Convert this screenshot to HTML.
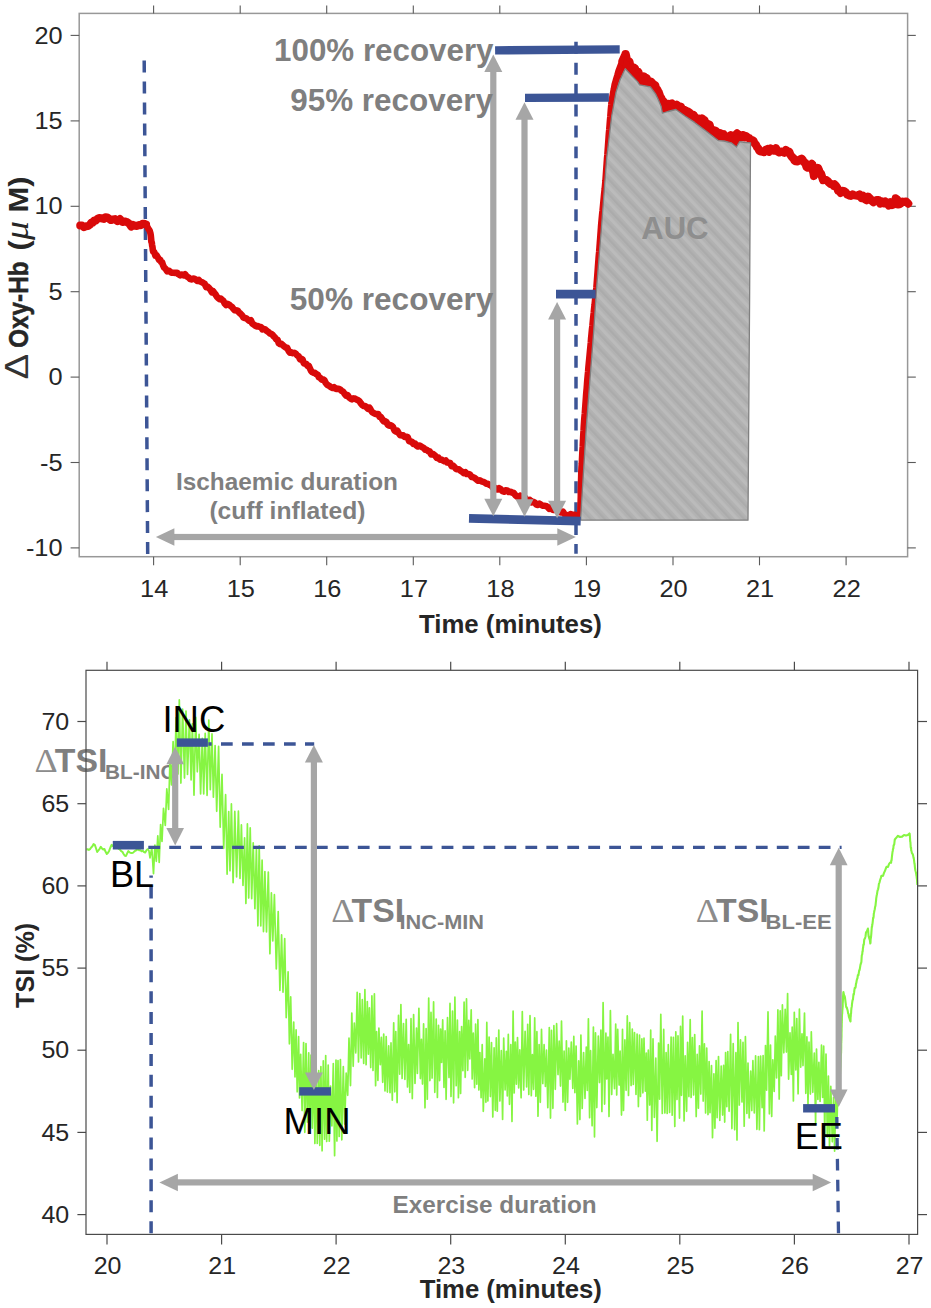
<!DOCTYPE html>
<html><head><meta charset="utf-8"><title>NIRS figure</title>
<style>html,body{margin:0;padding:0;background:#fff;}svg{display:block;}</style>
</head><body>
<svg width="931" height="1308" viewBox="0 0 931 1308">
<defs>
<pattern id="hatch" width="10.2" height="10.2" patternUnits="userSpaceOnUse" patternTransform="rotate(47)"><rect x="0" y="0" width="10.2" height="10.2" fill="#bbbbbb"/><rect x="0" y="0" width="10.2" height="2.2" fill="#b2b2b2"/><rect x="0" y="2.2" width="10.2" height="2.6" fill="#ababab"/><rect x="0" y="4.8" width="10.2" height="2.2" fill="#b2b2b2"/></pattern>
</defs>
<rect x="0" y="0" width="931" height="1308" fill="#ffffff"/>
<g id="chart1">
<rect x="79.2" y="13.4" width="828.4" height="543.3" fill="none" stroke="#989898" stroke-width="1.5"/>
<line x1="153.6" y1="556.7" x2="153.6" y2="565.3" stroke="#5a5a5a" stroke-width="1.1"/>
<line x1="153.6" y1="13.4" x2="153.6" y2="5.4" stroke="#5a5a5a" stroke-width="1.1"/>
<text x="154.2" y="596.7" font-family='"Liberation Sans", sans-serif' font-size="23.4" font-weight="normal" fill="#262626" text-anchor="middle" textLength="28.2" lengthAdjust="spacingAndGlyphs">14</text>
<line x1="240.2" y1="556.7" x2="240.2" y2="565.3" stroke="#5a5a5a" stroke-width="1.1"/>
<line x1="240.2" y1="13.4" x2="240.2" y2="5.4" stroke="#5a5a5a" stroke-width="1.1"/>
<text x="240.8" y="596.7" font-family='"Liberation Sans", sans-serif' font-size="23.4" font-weight="normal" fill="#262626" text-anchor="middle" textLength="28.2" lengthAdjust="spacingAndGlyphs">15</text>
<line x1="326.7" y1="556.7" x2="326.7" y2="565.3" stroke="#5a5a5a" stroke-width="1.1"/>
<line x1="326.7" y1="13.4" x2="326.7" y2="5.4" stroke="#5a5a5a" stroke-width="1.1"/>
<text x="327.3" y="596.7" font-family='"Liberation Sans", sans-serif' font-size="23.4" font-weight="normal" fill="#262626" text-anchor="middle" textLength="28.2" lengthAdjust="spacingAndGlyphs">16</text>
<line x1="413.3" y1="556.7" x2="413.3" y2="565.3" stroke="#5a5a5a" stroke-width="1.1"/>
<line x1="413.3" y1="13.4" x2="413.3" y2="5.4" stroke="#5a5a5a" stroke-width="1.1"/>
<text x="413.9" y="596.7" font-family='"Liberation Sans", sans-serif' font-size="23.4" font-weight="normal" fill="#262626" text-anchor="middle" textLength="28.2" lengthAdjust="spacingAndGlyphs">17</text>
<line x1="499.8" y1="556.7" x2="499.8" y2="565.3" stroke="#5a5a5a" stroke-width="1.1"/>
<line x1="499.8" y1="13.4" x2="499.8" y2="5.4" stroke="#5a5a5a" stroke-width="1.1"/>
<text x="500.4" y="596.7" font-family='"Liberation Sans", sans-serif' font-size="23.4" font-weight="normal" fill="#262626" text-anchor="middle" textLength="28.2" lengthAdjust="spacingAndGlyphs">18</text>
<line x1="586.4" y1="556.7" x2="586.4" y2="565.3" stroke="#5a5a5a" stroke-width="1.1"/>
<line x1="586.4" y1="13.4" x2="586.4" y2="5.4" stroke="#5a5a5a" stroke-width="1.1"/>
<text x="587" y="596.7" font-family='"Liberation Sans", sans-serif' font-size="23.4" font-weight="normal" fill="#262626" text-anchor="middle" textLength="28.2" lengthAdjust="spacingAndGlyphs">19</text>
<line x1="673" y1="556.7" x2="673" y2="565.3" stroke="#5a5a5a" stroke-width="1.1"/>
<line x1="673" y1="13.4" x2="673" y2="5.4" stroke="#5a5a5a" stroke-width="1.1"/>
<text x="673.6" y="596.7" font-family='"Liberation Sans", sans-serif' font-size="23.4" font-weight="normal" fill="#262626" text-anchor="middle" textLength="28.2" lengthAdjust="spacingAndGlyphs">20</text>
<line x1="759.5" y1="556.7" x2="759.5" y2="565.3" stroke="#5a5a5a" stroke-width="1.1"/>
<line x1="759.5" y1="13.4" x2="759.5" y2="5.4" stroke="#5a5a5a" stroke-width="1.1"/>
<text x="760.1" y="596.7" font-family='"Liberation Sans", sans-serif' font-size="23.4" font-weight="normal" fill="#262626" text-anchor="middle" textLength="28.2" lengthAdjust="spacingAndGlyphs">21</text>
<line x1="846.1" y1="556.7" x2="846.1" y2="565.3" stroke="#5a5a5a" stroke-width="1.1"/>
<line x1="846.1" y1="13.4" x2="846.1" y2="5.4" stroke="#5a5a5a" stroke-width="1.1"/>
<text x="846.7" y="596.7" font-family='"Liberation Sans", sans-serif' font-size="23.4" font-weight="normal" fill="#262626" text-anchor="middle" textLength="28.2" lengthAdjust="spacingAndGlyphs">22</text>
<line x1="79.2" y1="547.9" x2="70.6" y2="547.9" stroke="#5a5a5a" stroke-width="1.1"/>
<line x1="907.6" y1="547.9" x2="915.8" y2="547.9" stroke="#5a5a5a" stroke-width="1.1"/>
<text x="62.6" y="556" font-family='"Liberation Sans", sans-serif' font-size="23.4" font-weight="normal" fill="#262626" text-anchor="end" textLength="36.7" lengthAdjust="spacingAndGlyphs">-10</text>
<line x1="79.2" y1="462.5" x2="70.6" y2="462.5" stroke="#5a5a5a" stroke-width="1.1"/>
<line x1="907.6" y1="462.5" x2="915.8" y2="462.5" stroke="#5a5a5a" stroke-width="1.1"/>
<text x="62.6" y="470.6" font-family='"Liberation Sans", sans-serif' font-size="23.4" font-weight="normal" fill="#262626" text-anchor="end" textLength="22.6" lengthAdjust="spacingAndGlyphs">-5</text>
<line x1="79.2" y1="377.1" x2="70.6" y2="377.1" stroke="#5a5a5a" stroke-width="1.1"/>
<line x1="907.6" y1="377.1" x2="915.8" y2="377.1" stroke="#5a5a5a" stroke-width="1.1"/>
<text x="62.6" y="385.2" font-family='"Liberation Sans", sans-serif' font-size="23.4" font-weight="normal" fill="#262626" text-anchor="end" textLength="14.1" lengthAdjust="spacingAndGlyphs">0</text>
<line x1="79.2" y1="291.7" x2="70.6" y2="291.7" stroke="#5a5a5a" stroke-width="1.1"/>
<line x1="907.6" y1="291.7" x2="915.8" y2="291.7" stroke="#5a5a5a" stroke-width="1.1"/>
<text x="62.6" y="299.8" font-family='"Liberation Sans", sans-serif' font-size="23.4" font-weight="normal" fill="#262626" text-anchor="end" textLength="14.1" lengthAdjust="spacingAndGlyphs">5</text>
<line x1="79.2" y1="206.3" x2="70.6" y2="206.3" stroke="#5a5a5a" stroke-width="1.1"/>
<line x1="907.6" y1="206.3" x2="915.8" y2="206.3" stroke="#5a5a5a" stroke-width="1.1"/>
<text x="62.6" y="214.4" font-family='"Liberation Sans", sans-serif' font-size="23.4" font-weight="normal" fill="#262626" text-anchor="end" textLength="28.2" lengthAdjust="spacingAndGlyphs">10</text>
<line x1="79.2" y1="120.9" x2="70.6" y2="120.9" stroke="#5a5a5a" stroke-width="1.1"/>
<line x1="907.6" y1="120.9" x2="915.8" y2="120.9" stroke="#5a5a5a" stroke-width="1.1"/>
<text x="62.6" y="129" font-family='"Liberation Sans", sans-serif' font-size="23.4" font-weight="normal" fill="#262626" text-anchor="end" textLength="28.2" lengthAdjust="spacingAndGlyphs">15</text>
<line x1="79.2" y1="35.4" x2="70.6" y2="35.4" stroke="#5a5a5a" stroke-width="1.1"/>
<line x1="907.6" y1="35.4" x2="915.8" y2="35.4" stroke="#5a5a5a" stroke-width="1.1"/>
<text x="62.6" y="43.5" font-family='"Liberation Sans", sans-serif' font-size="23.4" font-weight="normal" fill="#262626" text-anchor="end" textLength="28.2" lengthAdjust="spacingAndGlyphs">20</text>
<text x="510.4" y="633.2" font-family='"Liberation Sans", sans-serif' font-size="26" font-weight="bold" fill="#262626" text-anchor="middle" textLength="182.8" lengthAdjust="spacingAndGlyphs">Time (minutes)</text>
<g transform="translate(27.8,0) rotate(-90)">
<text x="-379.4" y="0.4" font-family='"Liberation Sans", sans-serif' font-size="32.6" fill="#333333" textLength="25.6" lengthAdjust="spacingAndGlyphs">&#916;</text>
<text x="-347.8" y="0" font-family='"Liberation Sans", sans-serif' font-size="27.4" font-weight="bold" fill="#262626" text-anchor="start" textLength="86.3" lengthAdjust="spacingAndGlyphs" stroke="#262626" stroke-width="0.5">Oxy-Hb</text>
<text x="-250.4" y="0" font-family='"Liberation Sans", sans-serif' font-size="28" font-weight="bold" fill="#262626" textLength="74" lengthAdjust="spacingAndGlyphs">(<tspan font-family='"Liberation Serif", serif' font-style="italic" font-weight="normal" font-size="34">&#956;</tspan> M)</text>
</g>
<line x1="144.2" y1="60.6" x2="147.7" y2="554" stroke="#3c5596" stroke-width="3.5" stroke-dasharray="12 8.93" stroke-dashoffset="0"/>
<line x1="576" y1="41.8" x2="576" y2="553.7" stroke="#3c5596" stroke-width="3.5" stroke-dasharray="11.9 9.03" stroke-dashoffset="0"/>
<path d="M80.2 225.5 L82 225.4 L84 227.2 L86 226.2 L88 226.1 L90 224.6 L91.4 222.6 L92.8 222.7 L94.2 220.5 L95.8 220.7 L97.4 218.9 L99 218.1 L101.4 218.3 L103.8 218.9 L105.5 217.2 L107.3 217.4 L109 218.7 L111 220.1 L113 219.5 L115 219.1 L117.5 221.2 L120 219.1 L122.4 222 L124.8 221.4 L126.4 221.8 L128 222.7 L129.6 224.1 L131.2 226.6 L133.1 224.9 L135.1 225.7 L137 225.9 L138.8 225 L140.7 225.3 L142.5 223.8 L144.2 223.8 L146 224.5" fill="none" stroke="#d90a0a" stroke-width="8.0" stroke-linejoin="round" stroke-linecap="round"/>
<path d="M146 224.5 L148.2 228.4 L148.9 229.5 L149.7 230.8 L150.4 233.2 L150.7 234.9 L150.9 236.5 L151.2 239.9 L151.4 241.9 L151.8 242.5 L152.1 245.2 L152.5 247.1 L152.8 250.1 L153.2 251.8 L154.3 252.1 L155.4 255.7 L156.5 255.1 L157.7 257.1 L159 259.8 L160.2 259.7 L161.1 261.9 L162.1 262.2 L163.1 265.4 L164 267.4 L165.6 268.7 L167.2 271.4 L169.3 270.9 L171.5 272.8 L173.3 272.8 L175.2 272.9 L177 272.7 L178.6 274.3 L180.2 275.4 L181.8 274.5 L183.5 275.4 L185.1 274.2 L186.7 276.4 L188.4 277.3 L190.1 279.1 L191.9 279.4 L193.6 278.5 L195.3 279.3 L197.1 280.9 L198.8 279.9 L200.5 281.7 L201.9 282.1 L203.3 283 L204.7 283.9 L206.2 287.2 L207.6 286.7 L209 288 L210.4 289.6 L211.8 292.2 L213.1 291.2 L214.4 293.1 L215.7 294.7 L217 296.9 L218.2 298 L219.5 299.2 L220.8 298.6 L222.1 299.9 L223.4 300.9 L224.7 303.6 L226.1 305.1 L227.6 303.8 L229 304.6 L230.4 305.8 L231.9 306.9 L233.3 308.7 L234.7 310.2 L236.2 310.4 L237.6 310.5 L239.1 312.6 L240.5 313.7 L242 315.3 L243.5 317.6 L244.9 318 L246.4 318.4 L247.8 319.7 L249.3 320.9 L250.8 320.1 L252.2 323.4 L253.7 324.4 L255.2 325.6 L256.6 326.4 L258.1 326.1 L259.6 326.9 L261 327 L262.5 329.4 L263.9 328.9 L265.4 329.6 L266.9 331 L268.3 331.9 L269.8 333.3 L271.1 333.8 L272.4 334.7 L273.7 336.3 L275 337.4 L276.2 339.4 L277.5 339.7 L278.8 343.3 L280.1 344.1 L281.4 343.8 L282.7 345.1 L284.2 346.4 L285.6 347.5 L287.1 347.8 L288.6 350.9 L290 352.7 L291.5 352.2 L292.9 353.1 L294.4 352.9 L295.9 353.8 L297.3 355.5 L298.8 356.4 L300 359.3 L301.3 358.8 L302.5 359.4 L303.8 363.3 L305 363.7 L306.2 363.7 L307.5 365.9 L308.7 365.7 L309.9 368.3 L311.2 371.1 L312.4 372.2 L313.7 372.9 L314.9 372.8 L316.2 374 L317.6 374.5 L318.9 377.3 L320.3 377.9 L321.6 379.6 L322.9 379.4 L324.3 380 L325.6 382.7 L327 384.6 L328.3 385.4 L329.7 386.2 L331 387.3 L332.5 387.9 L334 387.1 L335.5 388.5 L337 389 L338.6 388.7 L340.1 389.4 L341.6 390.9 L343.1 391.7 L344.6 393.8 L346.1 395.6 L347.6 395.1 L349 397.3 L350.5 398.5 L352 399.3 L353.4 398.4 L354.9 398.6 L356.3 399.4 L357.8 400.1 L359.3 401 L360.7 403.1 L362.2 405 L363.7 406 L365.1 406 L366.6 407.4 L368.1 408.9 L369.5 407.8 L371 410.3 L372.4 412.3 L373.9 413.1 L375.4 414 L376.8 414.1 L378.3 414.1 L379.7 417 L381 417.1 L382.4 419.6 L383.7 421.5 L385.1 421.1 L386.4 422 L387.8 424.9 L389.1 425.6 L390.4 425.1 L391.8 425.9 L393.1 427.2 L394.5 430.6 L396 431.7 L397.4 430.8 L398.9 433.5 L400.4 435.3 L401.8 435.4 L403.3 435.4 L404.7 436.9 L406.2 436.7 L407.7 437.2 L409.1 441 L410.6 441.5 L412.1 442 L413.5 444 L415 443.5 L416.5 445.5 L417.9 446.5 L419.4 445.5 L420.8 446.2 L422.3 447.2 L423.8 447.9 L425.2 449.8 L426.7 449.9 L428.2 451.1 L429.6 451.2 L431.1 454.3 L432.6 453.8 L434 454.8 L435.5 456.1 L436.9 458 L438.4 457.5 L439.9 459.7 L441.3 459.5 L442.8 460.3 L444.3 461.2 L445.7 460.5 L447.2 462.5 L448.7 462.7 L450.1 463 L451.6 466.1 L453 465.5 L454.5 467 L456 468.8 L457.4 469.3 L458.9 469.4 L460.5 470.7 L462.1 471.7 L463.7 473.2 L465.3 472.1 L466.9 474 L468.6 474 L470.2 474.8 L471.8 477.1 L473.4 477.3 L475 478.2 L476.6 479.6 L478.2 480.8 L479.8 480.3 L481.4 481.3 L483.1 481.8 L484.7 482.5 L486.3 483.8 L487.9 483.9 L489.5 484.8 L491.1 485.3 L492.7 487.4 L494.3 487.5 L495.9 488.6 L497.5 489.5 L499.1 488.1 L500.8 489.3 L502.4 491.2 L504 491.7 L505.6 490.3 L507.2 490.5 L508.8 492 L510.4 491.7 L512.1 492.7 L513.7 492.8 L515.3 495.1 L516.9 496.4 L518.5 497.4 L520.2 495.8 L521.8 497.8 L523.4 498.5 L525 497.6 L526.6 500.2 L528.2 501.4 L529.8 499.9 L531.5 502.4 L533.1 501.7 L534.7 502.4 L536.3 504.6 L537.9 505 L539.5 503.6 L541.1 504.7 L542.7 505.7 L544.3 505.8 L545.9 506 L547.5 506.9 L549.2 508.8 L550.8 507.5 L552.4 509.5 L554 510 L555.6 509.3 L557.4 510.6 L559.3 512.1 L561.1 512.4 L563 511.6 L564.8 514.6 L566.7 514.9 L568.5 516 L570.7 514.1 L572.8 514.8 L575 514.7 L577.1 517.1 L579.2 516.2 L579.2 516.8 L580 515 L580.4 512 L580.5 508 L580.6 504 L580.7 500 L580.8 496 L580.8 492 L580.9 488 L581 484 L581.1 480 L581.2 476 L581.3 472 L581.5 467.8 L581.8 463.6 L582 459.5 L582.2 455.3 L582.4 451.1 L582.7 446.9 L582.9 442.7 L583.1 438.5 L583.3 434.4 L583.6 430.2 L583.8 426 L584.1 421.8 L584.4 417.6 L584.8 413.5 L585.1 409.3 L585.4 405.1 L585.7 400.9 L586 396.7 L586.3 392.5 L586.7 388.4 L587 384.2 L587.3 380 L587.7 375.8 L588.1 371.7 L588.4 367.5 L588.8 363.3 L589.2 359.2 L589.6 355 L590 350.8 L590.4 346.7 L590.8 342.5 L591.1 338.3 L591.5 334.2 L591.9 330 L592.4 325.8 L592.8 321.6 L593.2 317.3 L593.7 313.1 L594.1 308.9 L594.6 304.7 L595 300.5 L595.5 296.2 L595.9 292 L596.4 287.8 L596.7 283.8 L597 279.7 L597.3 275.7 L597.6 271.7 L597.9 267.6 L598.2 263.6 L598.5 259.6 L598.8 255.6 L599.2 251.5 L599.5 247.5 L599.8 243.5 L600.1 239.4 L600.4 235.4 L600.7 231.4 L601 227.3 L601.3 223.3 L601.7 219 L602.1 214.7 L602.6 210.4 L603 206.1 L603.4 201.9 L603.8 197.6 L604.2 193.3 L604.7 189 L605.1 184.7 L605.5 180.4 L605.8 176.1 L606.1 171.8 L606.4 167.5 L606.7 163.2 L607 158.9 L607.4 154.6 L607.7 150.3 L608 146 L608.3 141.7 L608.6 137.4 L608.9 133.3 L609.3 129.3 L609.6 125.2 L609.9 121.2 L610.3 117.1 L610.6 113.1 L610.9 109 L611.3 105 L611.6 100.9 L612.4 96.9 L613.1 93 L613.9 89 L614.6 85 L615.9 80.3 L617.3 75.7 L618.6 71 L620.5 66 L622.5 61 L625.6 54.2" fill="none" stroke="#d90a0a" stroke-width="6.6" stroke-linejoin="round" stroke-linecap="round"/>
<path d="M622.5 61 L625.6 54.2 L625.6 54 L626.2 56.5 L626.9 60.5 L627.5 62.1 L628.5 61.2 L629.4 61.7 L630.4 66.4 L631.3 67 L632.3 68.9 L633.5 67.5 L634.8 68.1 L636 71.9 L637.2 72.5 L638.4 72 L639.7 76.7 L640.9 77.3 L642.3 78.7 L643.8 76.5 L645.2 80.2 L646.6 78.1 L648.1 81.8 L649.5 81.4 L650.9 81.5 L652.4 83.2 L653.8 85.8 L654.5 84.8 L655.2 85.3 L655.9 88.3 L656.6 88.9 L657.4 89.7 L658.1 91.4 L658.8 92.4 L659.5 94.6 L660.2 96.7 L661.3 98.2 L662.4 101.7 L663.5 101.4 L664.5 103.4 L665.6 103.5 L666.7 105.4 L668.4 103.9 L670.1 104.4 L671.9 103.4 L673.6 106.1 L675.3 105.7 L676.7 104.8 L678.2 106.5 L679.6 109.4 L681 106.9 L682.5 110.1 L683.9 109.7 L685.3 110.4 L686.8 112.6 L688.2 111.7 L689.6 112.8 L690.9 114.5 L692.3 116.8 L693.7 115.1 L695 117.6 L696.4 118.3 L697.7 118.8 L699.1 118.6 L700.5 119 L701.8 118.4 L703.2 119.4 L704.5 120.2 L705.7 124.2 L707 123.7 L708.2 124.1 L709.5 124.7 L710.7 129 L712 130.8 L713.2 131.2 L714.5 130.4 L715.7 131 L717 132.1 L718.2 134 L720 133.1 L721.8 134.5 L723.6 134.2 L725.4 137.5 L727.2 138.5 L729 137.1 L730.6 135.3 L732.2 138 L733.8 135.6 L735.4 135.2 L737 133.4 L738.6 134.7 L740.2 135.2 L741.8 135.4 L743.3 135.1 L744.8 137.2 L746.3 136.2 L747.8 137.9 L749.3 138.3 L750.8 140.5 L752.3 140.2 L753.5 141 L754.6 143.4 L755.8 144.5 L757 147.2 L758.2 148.4 L759.3 150.6 L760.5 151.5 L762.2 151.6 L763.9 152.2 L765.6 150 L767.4 149.1 L769.1 151.7 L770.8 148.5 L772.5 150.5 L774.2 150.7 L775.9 148.2 L777.6 151.4 L779.3 152.4 L781 151.5 L782.6 152 L784.3 152.7 L785.9 150 L787.6 151.3 L789.2 151.7 L790.2 154.5 L791.3 156.1 L792.3 157.6 L793.3 157.9 L794.4 160.4 L795.4 161.1 L797.5 161.3 L799.5 159.6 L801.6 158.6 L802.8 160.1 L804 162.4 L805.3 162.7 L806.5 166.9 L807.7 167.6 L809.1 166.4 L810.4 165.1 L811.8 163.9 L812.1 164.9 L812.4 164.4 L812.7 169.1 L813 171.3 L813.3 172.1 L813.6 173.8 L813.9 176 L814.9 172.2 L816 173.4 L817 170.4 L818 168 L819 170.2 L820 173.9 L821 173.6 L822.1 177.1 L823.1 180.1 L824.1 179.8 L825.7 179.8 L827.4 180.9 L829 182.6 L830.7 184 L832.3 184.3 L833.5 185.6 L834.6 184.4 L835.8 185.6 L837 187.3 L838.2 190.8 L839.3 190.7 L840.5 192.9 L842.2 190.9 L843.9 191 L845.6 192.3 L847.4 194.6 L849.1 195.4 L850.8 195.8 L852.6 194.4 L854.3 195.3 L856.1 195.5 L857.8 195.8 L859.6 194.5 L861.3 197.9 L863.1 195.8 L864.8 199.2 L866.5 200.1 L868.2 196.7 L870 198.4 L871.7 200.7 L873.4 202.2 L875.1 200.7 L876.8 200 L878.5 200 L880.2 203.6 L881.9 201.5 L883.6 203.2 L885.3 201.6 L887 203.1 L888.8 205.5 L890.5 202.4 L892.2 205 L893.9 204.3 L894.5 204.2 L895.1 202.1 L895.7 198.4 L896.3 199.4 L896.7 199.9 L897.1 199.4 L897.6 200.6 L898 204.4 L899.5 204.2 L901 203.1 L902.6 201.7 L904.1 202 L906.2 201.6 L908.2 203.6" fill="none" stroke="#d90a0a" stroke-width="8.2" stroke-linejoin="round" stroke-linecap="round"/>
<polygon points="625.6,54 626.2,56.5 626.9,60.5 627.5,62.1 628.5,61.2 629.4,61.7 630.4,66.4 631.3,67 632.3,68.9 633.5,67.5 634.8,68.1 636,71.9 637.2,72.5 638.4,72 639.7,76.7 640.9,77.3 642.3,78.7 643.8,76.5 645.2,80.2 646.6,78.1 648.1,81.8 649.5,81.4 650.9,81.5 652.4,83.2 653.8,85.8 654.5,84.8 655.2,85.3 655.9,88.3 656.6,88.9 657.4,89.7 658.1,91.4 658.8,92.4 659.5,94.6 660.2,96.7 661.3,98.2 662.4,101.7 663.5,101.4 664.5,103.4 665.6,103.5 666.7,105.4 668.4,103.9 670.1,104.4 671.9,103.4 673.6,106.1 675.3,105.7 676.7,104.8 678.2,106.5 679.6,109.4 681,106.9 682.5,110.1 683.9,109.7 685.3,110.4 686.8,112.6 688.2,111.7 689.6,112.8 690.9,114.5 692.3,116.8 693.7,115.1 695,117.6 696.4,118.3 697.7,118.8 699.1,118.6 700.5,119 701.8,118.4 703.2,119.4 704.5,120.2 705.7,124.2 707,123.7 708.2,124.1 709.5,124.7 710.7,129 712,130.8 713.2,131.2 714.5,130.4 715.7,131 717,132.1 718.2,134 720,133.1 721.8,134.5 723.6,134.2 725.4,137.5 727.2,138.5 729,137.1 730.6,135.3 732.2,138 733.8,135.6 735.4,135.2 737,133.4 738.6,134.7 740.2,135.2 741.8,135.4 743.3,135.1 744.8,137.2 746.3,136.2 747.8,137.9 749.3,138.3 750.8,140.5 739.7,141.7 736.5,147 731.1,142.8 724,141 718.2,140.6 706,131 694.6,122.4 685,116 675.8,109.5 668,111.5 662.4,113.2 661,106 657.9,98.7 655.9,94.4 650.4,86.9 639.6,84.8 637.5,81.6 632,76 625.2,68.7 620,80 616,92.3" fill="#d90a0a"/>
<polygon points="580.8,520.2 580.7,517.7 583.5,471.8 586.4,425.9 589.9,380 593.8,330 596.6,287.8 601.8,223.3 606.6,158.9 611.7,116 616,92.3 620,80 625.2,68.7 632,76 637.5,81.6 639.6,84.8 650.4,86.9 655.9,94.4 657.9,98.7 661,106 662.4,113.2 668,111.5 675.8,109.5 685,116 694.6,122.4 706,131 718.2,140.6 724,141 731.1,142.8 736.5,147 739.7,141.7 745,142.5 750.5,142.8 749.6,300 748,520.2" fill="url(#hatch)" stroke="#808080" stroke-width="1.3" stroke-linejoin="round"/>
<text x="641.2" y="238.6" font-family='"Liberation Sans", sans-serif' font-size="31" font-weight="bold" fill="#8e8e8e" text-anchor="start" textLength="67.4" lengthAdjust="spacingAndGlyphs">AUC</text>
<line x1="495.1" y1="50.4" x2="619.7" y2="49.4" stroke="#3c5596" stroke-width="8.4"/>
<line x1="525" y1="97.9" x2="608.9" y2="97.5" stroke="#3c5596" stroke-width="8.4"/>
<line x1="556" y1="294.2" x2="595.7" y2="294.2" stroke="#3c5596" stroke-width="8.8"/>
<line x1="469" y1="518.4" x2="580.7" y2="521.2" stroke="#3c5596" stroke-width="8.8"/>
<rect x="490.2" y="71.1" width="6.2" height="428.7" fill="#a6a6a6"/>
<polygon points="493.3,54.6 484.3,72.1 502.3,72.1" fill="#a6a6a6"/>
<polygon points="493.3,516.3 484.3,498.8 502.3,498.8" fill="#a6a6a6"/>
<rect x="521.4" y="118.7" width="6.2" height="381.6" fill="#a6a6a6"/>
<polygon points="524.5,102.2 515.5,119.7 533.5,119.7" fill="#a6a6a6"/>
<polygon points="524.5,516.8 515.5,499.3 533.5,499.3" fill="#a6a6a6"/>
<rect x="554" y="318.4" width="6.2" height="183.3" fill="#a6a6a6"/>
<polygon points="557.1,301.9 548.1,319.4 566.1,319.4" fill="#a6a6a6"/>
<polygon points="557.1,518.2 548.1,500.7 566.1,500.7" fill="#a6a6a6"/>
<rect x="173.4" y="533.9" width="384.9" height="6.2" fill="#a6a6a6"/>
<polygon points="155.9,537 174.4,528.2 174.4,545.8" fill="#a6a6a6"/>
<polygon points="575.8,537 557.3,528.2 557.3,545.8" fill="#a6a6a6"/>
<text x="493.5" y="61.2" font-family='"Liberation Sans", sans-serif' font-size="31.4" font-weight="bold" fill="#7f7f7f" text-anchor="end" textLength="219.4" lengthAdjust="spacingAndGlyphs">100% recovery</text>
<text x="493" y="110.6" font-family='"Liberation Sans", sans-serif' font-size="31.4" font-weight="bold" fill="#7f7f7f" text-anchor="end" textLength="202.8" lengthAdjust="spacingAndGlyphs">95% recovery</text>
<text x="493.4" y="310.2" font-family='"Liberation Sans", sans-serif' font-size="31.4" font-weight="bold" fill="#7f7f7f" text-anchor="end" textLength="203.6" lengthAdjust="spacingAndGlyphs">50% recovery</text>
<text x="176" y="490" font-family='"Liberation Sans", sans-serif' font-size="23.2" font-weight="bold" fill="#7f7f7f" text-anchor="start" textLength="222" lengthAdjust="spacingAndGlyphs">Ischaemic duration</text>
<text x="209.4" y="519" font-family='"Liberation Sans", sans-serif' font-size="23.2" font-weight="bold" fill="#7f7f7f" text-anchor="start" textLength="156" lengthAdjust="spacingAndGlyphs">(cuff inflated)</text>
</g>
<g id="chart2">
<line x1="107" y1="1234.4" x2="107" y2="1244.4" stroke="#4a4a4a" stroke-width="1.2"/>
<line x1="107" y1="670.3" x2="107" y2="661.7" stroke="#4a4a4a" stroke-width="1.2"/>
<text x="107.6" y="1274.1" font-family='"Liberation Sans", sans-serif' font-size="23.4" font-weight="normal" fill="#262626" text-anchor="middle" textLength="27.8" lengthAdjust="spacingAndGlyphs">20</text>
<line x1="221.6" y1="1234.4" x2="221.6" y2="1244.4" stroke="#4a4a4a" stroke-width="1.2"/>
<line x1="221.6" y1="670.3" x2="221.6" y2="661.7" stroke="#4a4a4a" stroke-width="1.2"/>
<text x="222.2" y="1274.1" font-family='"Liberation Sans", sans-serif' font-size="23.4" font-weight="normal" fill="#262626" text-anchor="middle" textLength="27.8" lengthAdjust="spacingAndGlyphs">21</text>
<line x1="336.1" y1="1234.4" x2="336.1" y2="1244.4" stroke="#4a4a4a" stroke-width="1.2"/>
<line x1="336.1" y1="670.3" x2="336.1" y2="661.7" stroke="#4a4a4a" stroke-width="1.2"/>
<text x="336.7" y="1274.1" font-family='"Liberation Sans", sans-serif' font-size="23.4" font-weight="normal" fill="#262626" text-anchor="middle" textLength="27.8" lengthAdjust="spacingAndGlyphs">22</text>
<line x1="450.7" y1="1234.4" x2="450.7" y2="1244.4" stroke="#4a4a4a" stroke-width="1.2"/>
<line x1="450.7" y1="670.3" x2="450.7" y2="661.7" stroke="#4a4a4a" stroke-width="1.2"/>
<text x="451.3" y="1274.1" font-family='"Liberation Sans", sans-serif' font-size="23.4" font-weight="normal" fill="#262626" text-anchor="middle" textLength="27.8" lengthAdjust="spacingAndGlyphs">23</text>
<line x1="565.3" y1="1234.4" x2="565.3" y2="1244.4" stroke="#4a4a4a" stroke-width="1.2"/>
<line x1="565.3" y1="670.3" x2="565.3" y2="661.7" stroke="#4a4a4a" stroke-width="1.2"/>
<text x="565.9" y="1274.1" font-family='"Liberation Sans", sans-serif' font-size="23.4" font-weight="normal" fill="#262626" text-anchor="middle" textLength="27.8" lengthAdjust="spacingAndGlyphs">24</text>
<line x1="679.8" y1="1234.4" x2="679.8" y2="1244.4" stroke="#4a4a4a" stroke-width="1.2"/>
<line x1="679.8" y1="670.3" x2="679.8" y2="661.7" stroke="#4a4a4a" stroke-width="1.2"/>
<text x="680.4" y="1274.1" font-family='"Liberation Sans", sans-serif' font-size="23.4" font-weight="normal" fill="#262626" text-anchor="middle" textLength="27.8" lengthAdjust="spacingAndGlyphs">25</text>
<line x1="794.4" y1="1234.4" x2="794.4" y2="1244.4" stroke="#4a4a4a" stroke-width="1.2"/>
<line x1="794.4" y1="670.3" x2="794.4" y2="661.7" stroke="#4a4a4a" stroke-width="1.2"/>
<text x="795" y="1274.1" font-family='"Liberation Sans", sans-serif' font-size="23.4" font-weight="normal" fill="#262626" text-anchor="middle" textLength="27.8" lengthAdjust="spacingAndGlyphs">26</text>
<line x1="909" y1="1234.4" x2="909" y2="1244.4" stroke="#4a4a4a" stroke-width="1.2"/>
<line x1="909" y1="670.3" x2="909" y2="661.7" stroke="#4a4a4a" stroke-width="1.2"/>
<text x="909.6" y="1274.1" font-family='"Liberation Sans", sans-serif' font-size="23.4" font-weight="normal" fill="#262626" text-anchor="middle" textLength="27.8" lengthAdjust="spacingAndGlyphs">27</text>
<line x1="86" y1="1214.6" x2="77.4" y2="1214.6" stroke="#4a4a4a" stroke-width="1.2"/>
<line x1="917.6" y1="1214.6" x2="927" y2="1214.6" stroke="#4a4a4a" stroke-width="1.2"/>
<text x="69.2" y="1222.7" font-family='"Liberation Sans", sans-serif' font-size="23.4" font-weight="normal" fill="#262626" text-anchor="end" textLength="27.8" lengthAdjust="spacingAndGlyphs">40</text>
<line x1="86" y1="1132.4" x2="77.4" y2="1132.4" stroke="#4a4a4a" stroke-width="1.2"/>
<line x1="917.6" y1="1132.4" x2="927" y2="1132.4" stroke="#4a4a4a" stroke-width="1.2"/>
<text x="69.2" y="1140.5" font-family='"Liberation Sans", sans-serif' font-size="23.4" font-weight="normal" fill="#262626" text-anchor="end" textLength="27.8" lengthAdjust="spacingAndGlyphs">45</text>
<line x1="86" y1="1050.2" x2="77.4" y2="1050.2" stroke="#4a4a4a" stroke-width="1.2"/>
<line x1="917.6" y1="1050.2" x2="927" y2="1050.2" stroke="#4a4a4a" stroke-width="1.2"/>
<text x="69.2" y="1058.3" font-family='"Liberation Sans", sans-serif' font-size="23.4" font-weight="normal" fill="#262626" text-anchor="end" textLength="27.8" lengthAdjust="spacingAndGlyphs">50</text>
<line x1="86" y1="968.1" x2="77.4" y2="968.1" stroke="#4a4a4a" stroke-width="1.2"/>
<line x1="917.6" y1="968.1" x2="927" y2="968.1" stroke="#4a4a4a" stroke-width="1.2"/>
<text x="69.2" y="976.2" font-family='"Liberation Sans", sans-serif' font-size="23.4" font-weight="normal" fill="#262626" text-anchor="end" textLength="27.8" lengthAdjust="spacingAndGlyphs">55</text>
<line x1="86" y1="885.9" x2="77.4" y2="885.9" stroke="#4a4a4a" stroke-width="1.2"/>
<line x1="917.6" y1="885.9" x2="927" y2="885.9" stroke="#4a4a4a" stroke-width="1.2"/>
<text x="69.2" y="894" font-family='"Liberation Sans", sans-serif' font-size="23.4" font-weight="normal" fill="#262626" text-anchor="end" textLength="27.8" lengthAdjust="spacingAndGlyphs">60</text>
<line x1="86" y1="803.7" x2="77.4" y2="803.7" stroke="#4a4a4a" stroke-width="1.2"/>
<line x1="917.6" y1="803.7" x2="927" y2="803.7" stroke="#4a4a4a" stroke-width="1.2"/>
<text x="69.2" y="811.8" font-family='"Liberation Sans", sans-serif' font-size="23.4" font-weight="normal" fill="#262626" text-anchor="end" textLength="27.8" lengthAdjust="spacingAndGlyphs">65</text>
<line x1="86" y1="721.5" x2="77.4" y2="721.5" stroke="#4a4a4a" stroke-width="1.2"/>
<line x1="917.6" y1="721.5" x2="927" y2="721.5" stroke="#4a4a4a" stroke-width="1.2"/>
<text x="69.2" y="729.6" font-family='"Liberation Sans", sans-serif' font-size="23.4" font-weight="normal" fill="#262626" text-anchor="end" textLength="27.8" lengthAdjust="spacingAndGlyphs">70</text>
<text x="510.8" y="1298" font-family='"Liberation Sans", sans-serif' font-size="26" font-weight="bold" fill="#262626" text-anchor="middle" textLength="182.2" lengthAdjust="spacingAndGlyphs">Time (minutes)</text>
<g transform="translate(33.9,1007.1) rotate(-90)">
<text x="-0.8" y="0" font-family='"Liberation Sans", sans-serif' font-size="25.5" font-weight="bold" fill="#262626" text-anchor="start" textLength="85" lengthAdjust="spacingAndGlyphs">TSI (%)</text>
</g>
<text x="34.5" y="771.6" font-family='"Liberation Serif", serif' font-size="34" fill="#8c8c8c" textLength="23.2" lengthAdjust="spacingAndGlyphs">&#916;</text>
<text x="54.8" y="771.6" font-family='"Liberation Sans", sans-serif' font-size="33" font-weight="bold" fill="#7f7f7f" text-anchor="start" textLength="52.6" lengthAdjust="spacingAndGlyphs">TSI</text>
<text x="105.1" y="779.2" font-family='"Liberation Sans", sans-serif' font-size="21" font-weight="bold" fill="#7f7f7f" text-anchor="start" textLength="70.4" lengthAdjust="spacingAndGlyphs">BL-INC</text>
<text x="331.3" y="921.6" font-family='"Liberation Serif", serif' font-size="34" fill="#8c8c8c" textLength="23.2" lengthAdjust="spacingAndGlyphs">&#916;</text>
<text x="351.6" y="921.6" font-family='"Liberation Sans", sans-serif' font-size="33" font-weight="bold" fill="#7f7f7f" text-anchor="start" textLength="52.6" lengthAdjust="spacingAndGlyphs">TSI</text>
<text x="399.5" y="929.2" font-family='"Liberation Sans", sans-serif' font-size="21" font-weight="bold" fill="#7f7f7f" text-anchor="start" textLength="84.5" lengthAdjust="spacingAndGlyphs">INC-MIN</text>
<text x="695.7" y="921.7" font-family='"Liberation Serif", serif' font-size="34" fill="#8c8c8c" textLength="23.2" lengthAdjust="spacingAndGlyphs">&#916;</text>
<text x="716" y="921.7" font-family='"Liberation Sans", sans-serif' font-size="33" font-weight="bold" fill="#7f7f7f" text-anchor="start" textLength="52.6" lengthAdjust="spacingAndGlyphs">TSI</text>
<text x="765.6" y="929.3" font-family='"Liberation Sans", sans-serif' font-size="21" font-weight="bold" fill="#7f7f7f" text-anchor="start" textLength="66" lengthAdjust="spacingAndGlyphs">BL-EE</text>
<path d="M86.4 849.4 L87.6 849.2 L88.8 849.9 L90 849.1 L91.2 847.5 L92.4 846.3 L93.6 844.1 L94.8 844.8 L96 848.3 L97.2 852 L98.4 850.5 L99.6 848.8 L100.8 846.8 L102 848.4 L103.2 849.5 L104.4 849 L105.6 851.8 L106.8 853.9 L108 852.8 L109.2 850.7 L110.4 847.5 L111.6 844.8 L112.8 846.1 L114 846.1 L115.2 846.6 L116.4 847.4 L117.6 847.7 L118.8 848.9 L120 849.6 L121.2 851.1 L122.4 851.8 L123.6 854 L124.8 855.8 L126 855.9 L127.2 853.3 L128.4 851.1 L129.6 852.3 L130.8 853 L132 853 L133.2 852.6 L134.4 851.4 L135.6 850.5 L136.8 850 L138 849.2 L139.2 850.3 L140.4 850.2 L141.6 851.2 L142.8 850.8 L144 852 L145.2 852.5 L146.4 850.4 L147.6 849.2 L148.8 849.9" fill="none" stroke="#86f542" stroke-width="2.0" stroke-linejoin="round"/>
<path d="M148.8 849.9 L150 857.9 L151.8 847.6 L153.5 873.7 L154.9 845.1 L156.3 861.3 L157.8 835.9 L159.2 862.5 L160.6 824.6 L162 841.5 L163.5 808.4 L165.3 825.4 L166.8 788.8 L168.6 809.5 L170 759.6 L171.5 784.9 L173.1 741.6 L174.6 778.4 L176.1 717.6 L178 774.1 L179.3 699.9 L180.9 783.1 L182.6 709.1 L184.5 778.1 L186 711 L187.5 774.5 L189.4 719.8 L191.1 780 L192.4 723.8 L194 795.2 L195.7 717.4 L197.3 771.8 L199.1 734.4 L200.6 793.9 L202.3 738.3 L203.7 793.9 L205.2 733.3 L207.1 795.4 L208.8 720.1 L210.3 789.7 L212 733.9 L213.4 797.2 L215.1 745.5 L216.7 811.3 L218.6 746.4 L220.2 827.2 L222 774.3 L223.7 848.3 L225.6 794.7 L227.1 874.2 L228.7 811.6 L230 870.8 L231.4 803.9 L233.1 882.7 L234.8 811.4 L236.6 877 L238.4 811.2 L240 878.4 L241.4 824.9 L243 885.5 L244.6 837.9 L245.9 903.4 L247.4 823.9 L248.7 897.9 L250.2 827.9 L251.7 898.7 L253.2 842.8 L254.9 908.7 L256.4 847.5 L257.9 925.8 L259.2 845.9 L260.8 926 L262.1 860.2 L263.5 931.6 L264.9 871.6 L266.5 932 L268.3 872 L269.9 953.8 L271.4 892.9 L272.8 941 L274.4 894.7 L276.3 969 L278.2 911.5 L279.9 990.5 L281.6 934.9 L283 992.2 L284.7 938.5 L286.2 1017.6 L288.1 971.8 L289.4 1043.8 L290.7 996.9 L292.2 1069.3 L293.7 1022.1 L295 1076.9 L296.1 1029.9 L297.2 1091.8 L298.6 1036.5 L299.5 1098 L300.7 1054.3 L302.1 1110.6 L303.6 1042.6 L304.8 1132.3 L306 1043.6 L307.4 1122.1 L308.7 1052.8 L309.8 1127.8 L311 1055 L312.3 1128.2 L313.7 1070 L314.9 1143.4 L316.2 1067.9 L317.3 1143.5 L318.7 1070.6 L319.8 1145.3 L320.9 1066.5 L322.1 1150.8 L323.3 1060.8 L324.6 1139.2 L325.7 1055.6 L326.7 1141.5 L328.2 1065.1 L329.3 1141.2 L330.5 1086 L331.9 1125.9 L333.3 1063.5 L334.6 1155.7 L336 1060.1 L336.9 1141 L338 1060.5 L339.2 1136.4 L340.4 1059.5 L341.8 1139.8 L343.3 1066.5 L344.7 1124.1 L346.2 1073.2 L347.7 1095.3 L349 1038.2 L350.5 1085.6 L351.8 1013 L353.2 1066.3 L354.3 1023 L355.8 1052.9 L357.2 992.3 L358.5 1061.9 L359.8 993.6 L361.2 1058 L362.3 999.7 L363.7 1063.4 L364.9 989.7 L366.1 1064.7 L367.3 1001.5 L368.4 1054.2 L369.4 1007.9 L370.7 1067.6 L371.9 995.9 L373 1070.4 L374.4 993.8 L375.6 1085.7 L376.6 1031.7 L377.9 1080.5 L378.9 1028.2 L380.3 1064.7 L381.4 1037.4 L382.7 1082.3 L383.7 1034 L385 1091 L386.2 1036.5 L387.4 1092.1 L388.7 1045.9 L390 1092.7 L391 1042.9 L392.3 1100.2 L393.7 1022.8 L394.8 1091.8 L395.8 1031.6 L397.1 1102.6 L398.5 1015.4 L399.7 1074.2 L400.9 1004.6 L402.1 1078.4 L403.5 1023.5 L404.9 1079.5 L406.2 1019.3 L407.5 1086.9 L408.6 1044.5 L409.8 1092.4 L411 1018.7 L412.3 1098.6 L413.6 1014.5 L415 1083.5 L416.5 1028.1 L417.4 1073.5 L418.9 1008.3 L420.4 1078.6 L421.4 1039.4 L422.5 1084.1 L423.6 1023.9 L425 1107.8 L426.1 1028.5 L427.3 1099.2 L428.7 998.1 L429.9 1080.6 L431 1012.4 L432.1 1078.1 L433.6 1001.9 L434.8 1092.3 L436.2 1019.1 L437.4 1097.4 L438.5 1025.3 L439.6 1080.6 L440.6 1029 L441.6 1062.5 L442.7 1019.9 L444 1087.5 L445.1 1030.8 L446.1 1099.3 L447.5 1017.7 L449 1077.6 L450 1003.4 L451 1096.5 L452.5 1011.1 L453.6 1102.8 L454.9 997.2 L456.2 1085.7 L457.4 1020.2 L458.4 1097.7 L459.6 1031.7 L460.6 1093.4 L461.6 1026.5 L462.9 1070.7 L464.1 1002.2 L465.2 1077.3 L466.5 998.8 L467.7 1070.3 L468.8 1020.3 L469.8 1058.9 L471.2 1009.9 L472.2 1079 L473.3 1033.2 L474.6 1087.7 L475.6 1024.2 L476.8 1084.2 L477.9 1019.7 L478.9 1090 L479.9 1052.6 L481.1 1097.7 L482.2 1044.7 L483.3 1111.3 L484.8 1058.9 L485.9 1102.3 L486.8 1022.4 L487.9 1100.9 L489.1 1037.1 L490.4 1096.6 L491.5 1042.5 L492.8 1116.9 L494.1 1047.8 L495.3 1110.3 L496.3 1037.9 L497.3 1111.2 L498.8 1030 L499.9 1100.9 L501.3 1050.7 L502.6 1119.5 L503.7 1038.2 L505.1 1089.9 L506.3 1051.3 L507.3 1095.9 L508.3 1034.4 L509.5 1104.3 L510.8 1044.7 L512 1121.4 L513.1 1011.2 L514.2 1092.9 L515.3 1042.1 L516.4 1084.2 L517.5 1037.5 L518.7 1087.9 L519.8 1049.8 L521.1 1097.8 L522.3 1011.5 L523.7 1090 L525.1 1031.3 L526.6 1086.9 L527.7 1024.3 L528.8 1094.4 L530 1015.7 L531.3 1095.7 L532.4 1054.6 L533.6 1089.4 L534.7 1017.9 L535.9 1096.2 L536.9 1031.7 L538 1116.2 L539.1 1044.5 L540.3 1102.3 L541.5 1029.3 L542.8 1083.6 L544.1 1044.7 L545.4 1086.5 L546.5 1050.2 L547.8 1107.7 L549.3 1027.5 L550.5 1118.1 L551.5 1030.3 L552.9 1108.3 L553.9 1025.7 L555.3 1089.3 L556.6 1023.7 L558 1074.6 L559.2 1041.2 L560.5 1086.1 L561.5 1021.1 L563 1102.1 L564.1 1051 L565.3 1110.5 L566.4 1040.8 L567.6 1102.3 L568.8 1048.1 L569.9 1079.3 L571.3 1042 L572.8 1088.5 L573.8 1036.4 L574.9 1092.7 L576.1 1046.1 L577.4 1123.9 L578.7 1060.9 L579.9 1119.6 L580.9 1035.1 L582.2 1108.5 L583.6 1052.6 L585 1098.5 L586.3 1047 L587.3 1090.5 L588.4 1018.8 L589.6 1117.7 L590.6 1050.7 L592.1 1125.8 L593.4 1027 L594.5 1136.8 L595.5 1032.8 L596.8 1107.6 L598.3 1036.1 L599.5 1082.6 L600.9 1030.1 L601.9 1111.4 L603.1 1002.6 L604.6 1104.1 L605.9 1033.2 L606.8 1078.9 L608 1037 L609 1116.4 L610.4 1010.5 L611.7 1094.5 L613 1054.4 L614.5 1088.7 L615.7 1024 L616.7 1094.9 L617.7 1029.3 L619.1 1085.1 L620.1 1051.1 L621.5 1115.1 L622.5 1029.3 L623.5 1110.5 L624.9 1039.9 L626.1 1090.3 L627.3 1015.9 L628.5 1095.5 L629.7 1022.7 L631.1 1085.6 L632.3 1029 L633.3 1084.5 L634.5 1032.5 L636 1094.4 L637.1 1034 L638.4 1106.6 L639.5 1035 L640.5 1096.5 L641.9 1038.9 L642.9 1092.8 L644 1038.2 L645.3 1091.2 L646.3 1053 L647.3 1120.2 L648.3 1050.2 L649.7 1105.1 L650.7 1030.2 L651.8 1130.3 L653 1038.8 L654.4 1117.3 L655.8 1058.2 L657.1 1141.3 L658.6 1043 L659.6 1099.2 L660.8 1014.3 L662.3 1113.5 L663.7 1029.4 L664.9 1113 L666.1 1052.5 L667.2 1113.5 L668.3 1044.7 L669.6 1112.4 L671.1 1037.1 L672.2 1115.2 L673.4 1037.3 L674.8 1126.5 L675.8 1031.8 L677 1099.4 L678 1035.9 L679.5 1118.1 L680.5 1026.4 L681.5 1095.3 L682.7 1016.2 L684.1 1120.9 L685.2 1055.8 L686.6 1111.3 L687.6 1042.3 L688.9 1096.6 L690.2 1019.7 L691.1 1097.4 L692.4 1037.6 L693.6 1094.9 L694.7 1034.6 L696.2 1116.6 L697.2 1054.4 L698.4 1108.2 L699.5 1045.8 L700.8 1094.1 L702.1 1011.2 L703.2 1101.1 L704.4 1043.8 L705.6 1113 L706.7 1048.1 L708 1114.6 L709.1 1061.5 L710 1112.6 L711.5 1065.5 L712.5 1137.7 L713.9 1073.8 L714.9 1128.2 L716.1 1060.5 L717.1 1117.7 L718.5 1056.5 L719.8 1120.5 L721.2 1066.1 L722.6 1115.1 L723.6 1065.4 L724.7 1122.1 L725.6 1052.6 L726.8 1106.7 L727.8 1051.6 L729.1 1111.3 L730.6 1034.3 L731.9 1128.6 L733.2 1043.5 L734.7 1129.7 L735.9 1052.7 L737 1139.9 L738 1022.6 L739.3 1105.1 L740.5 1039.9 L742 1102.1 L743 1042.4 L744.2 1126.2 L745.4 1036.6 L746.9 1113.5 L748 1063 L749.2 1118 L750.7 1071 L751.8 1110.6 L752.9 1060.7 L754.3 1113 L755.6 1055.8 L756.9 1129.3 L758.4 1056.5 L759.4 1129.7 L760.6 1056.1 L762.1 1107.7 L763.1 1055.5 L764.2 1131 L765.5 1045.5 L766.6 1090.2 L768 1011.9 L769.4 1113.8 L770.5 1045.1 L771.7 1116.4 L772.8 1059.8 L774.2 1091.5 L775.3 1036.2 L776.6 1077.9 L777.9 1009.9 L779.2 1099.1 L780.2 1010.8 L781.3 1075.7 L782.4 1004.9 L783.8 1052.8 L785.2 1009.4 L786.4 1052.1 L787.6 993.5 L788.6 1079.1 L790 1032.9 L791.3 1074.4 L792.2 1027.2 L793.4 1101 L794.3 1012.3 L795.8 1069.9 L796.8 1018.6 L798.1 1093.8 L799.4 1009.2 L800.7 1067.2 L802 1033.8 L803 1065.6 L804.5 1013 L805.8 1093.3 L806.9 1036.9 L808 1104.7 L809 1042.2 L810.4 1094.1 L811.3 1031.8 L812.8 1092.3 L814.3 1053 L815.6 1123.6 L816.5 1049.1 L817.9 1099.5 L818.9 1062.3 L820.1 1101.5 L821.5 1045.2 L822.6 1097.4 L823.7 1046.2 L824.7 1134.8 L826 1054.1 L827.3 1136.9 L828.4 1076 L829.5 1146 L830.8 1086.4 L832.3 1141.8 L833.6 1097.3 L834.6 1151.2 L835.9 1091 L837 1125.3 L838.1 1072.1 L839 1094.3 L839.1 1094.7" fill="none" stroke="#86f542" stroke-width="1.7" stroke-linejoin="round"/>
<path d="M839 1094.3 L839.1 1094.7 L839.1 1092.9 L839.2 1089.4 L839.3 1089 L839.4 1086.5 L839.5 1085.2 L839.5 1084.6 L839.6 1083.9 L839.7 1083 L839.8 1080.2 L839.8 1077.6 L839.9 1075.8 L840 1073.9 L840.1 1073.5 L840.1 1071.6 L840.2 1070.6 L840.3 1067.7 L840.4 1067.4 L840.4 1067.2 L840.5 1063.8 L840.6 1062.7 L840.7 1059.9 L840.8 1057.3 L840.8 1056.5 L840.9 1054.6 L841 1054.6 L841 1053.4 L841.1 1052.3 L841.1 1051.9 L841.2 1048.1 L841.2 1045.5 L841.2 1043.3 L841.3 1042.8 L841.3 1042.9 L841.3 1041.8 L841.4 1040 L841.4 1039.3 L841.5 1036.7 L841.5 1033.8 L841.5 1033.2 L841.6 1030.2 L841.6 1028.6 L841.7 1026.4 L841.7 1025 L841.7 1023.2 L841.8 1023 L841.8 1020.9 L841.8 1020.6 L841.9 1020.3 L841.9 1017.9 L842 1015.3 L842 1014.9 L842.1 1014.2 L842.2 1013.5 L842.3 1011.4 L842.4 1009.7 L842.5 1009 L842.6 1007.3 L842.7 1006.6 L842.7 1003.3 L842.8 1002.5 L842.9 1000.8 L843 998.7 L843.1 995.5 L843.2 994.6 L843.3 992.7 L843.4 992.1 L843.8 993.9 L844.1 995.6 L844.5 995.9 L844.9 997.1 L845.3 1000.1 L845.6 1002.6 L846 1005.7 L846.4 1007.5 L846.8 1007.6 L847.2 1009 L847.7 1010.7 L848.1 1013.3 L848.5 1014.1 L848.9 1016.9 L849.2 1017.7 L849.6 1018.6 L849.9 1020 L850.3 1021.1 L850.5 1021.4 L850.6 1017.6 L850.8 1016.1 L850.9 1013.5 L851.1 1013.3 L851.2 1010.7 L851.4 1008.6 L851.5 1007.7 L851.7 1007 L851.8 1006.3 L852 1004.2 L852.3 1001.8 L852.6 1000 L852.9 1000 L853.2 997 L853.5 994.1 L853.8 994.6 L854.1 992.7 L854.4 989.9 L854.8 987.7 L855.2 988.1 L855.6 987.1 L856 983.6 L856.3 983 L856.7 980.4 L857.1 979 L857.5 978 L857.9 975 L858.4 975.4 L858.8 972.9 L859.2 970.3 L859.6 970.1 L860.1 967.1 L860.5 964.6 L860.7 964.4 L860.9 963 L861.2 962.8 L861.4 961.6 L861.6 958.3 L861.8 955.3 L862.1 954.8 L862.3 953.3 L862.5 951.2 L862.7 951.4 L862.9 948.5 L863.1 947.6 L863.4 944.6 L863.6 945 L863.8 944.6 L864 942.5 L864.2 939.8 L864.7 938.8 L865.1 938 L865.5 936.5 L866 932.4 L867 931.2 L867.9 928.6 L868.2 931 L868.4 934.3 L868.7 936.5 L868.9 936.5 L869.2 938.2 L869.6 939.3 L869.9 940.3 L870.3 943.5 L870.5 942.7 L870.6 940 L870.8 938.2 L871 937.3 L871.1 936.2 L871.3 933.9 L871.5 930.9 L871.7 928.5 L871.8 926.7 L872 927.1 L872.2 925.4 L872.4 924.3 L872.7 922.1 L872.9 920.2 L873.1 917.8 L873.3 918.4 L873.6 916.7 L873.8 913.6 L874 913 L874.2 911.7 L874.5 910.2 L874.8 909.2 L875 907.4 L875.2 906.6 L875.5 905.7 L875.8 902.6 L876 901.1 L876.2 898.6 L876.5 896.7 L876.8 894.9 L877 894.2 L877.3 892.1 L877.6 890.3 L877.8 890.2 L878.1 889.3 L878.4 887.7 L878.6 886.6 L878.9 883.9 L879.5 882.6 L880.1 880 L880.8 878.1 L881.4 875.8 L882 876.1 L883 875.8 L884 872.9 L885 870.8 L885.8 868.5 L886.5 866.8 L887.2 866.8 L888 867 L889 864 L890.1 862.5 L891.1 862.8 L891.3 860.3 L891.6 860.3 L891.8 857.8 L892 856.2 L892.3 853.7 L892.5 852 L892.8 850.7 L893 848.9 L893.3 848.6 L893.6 845.4 L893.9 845 L894.2 844.6 L894.5 842 L894.8 839.5 L896.4 837.6 L898 835.8 L900 837 L902.1 836.6 L904 835 L906 835.6 L907.8 835.1 L909.5 833.4 L909.7 833.8 L909.9 836 L910 837.8 L910.2 841.4 L910.4 842 L910.6 845 L910.7 847.1 L910.9 848 L911.1 847.8 L911.2 850.7 L911.4 850.6 L911.9 853.1 L912.5 853.8 L913 855 L913.5 857.6 L913.9 859 L914.4 863.3 L914.7 864.7 L914.9 867.1 L915.2 869.3 L915.4 870.5 L915.7 871.5 L915.9 872.1 L916.2 874.2 L916.4 875.7 L916.5 875.6 L916.7 877.5 L916.9 878.9 L917.1 880.7 L917.2 883 L917.4 884.9" fill="none" stroke="#86f542" stroke-width="2.1" stroke-linejoin="round"/>
<line x1="208.4" y1="744" x2="314.2" y2="744" stroke="#3c5596" stroke-width="3.3" stroke-dasharray="11.7 9.3" stroke-dashoffset="8.4"/>
<line x1="148.3" y1="847.4" x2="841.6" y2="847.4" stroke="#3c5596" stroke-width="3.3" stroke-dasharray="11.8 9.15" stroke-dashoffset="0"/>
<line x1="151.1" y1="875.6" x2="151.1" y2="1234" stroke="#3c5596" stroke-width="3.5" stroke-dasharray="12 8.91" stroke-dashoffset="9.9"/>
<line x1="836.8" y1="1117.1" x2="838.5" y2="1234" stroke="#3c5596" stroke-width="3.3" stroke-dasharray="11.6 9.3" stroke-dashoffset="0"/>
<line x1="176.8" y1="742.6" x2="207.9" y2="742.6" stroke="#3c5596" stroke-width="8.4"/>
<line x1="112.8" y1="845.2" x2="143.9" y2="845.2" stroke="#3c5596" stroke-width="8.6"/>
<line x1="299.2" y1="1091.4" x2="331" y2="1091.4" stroke="#3c5596" stroke-width="8.4"/>
<line x1="803.1" y1="1108.3" x2="835" y2="1108.3" stroke="#3c5596" stroke-width="8.4"/>
<rect x="172.1" y="763.2" width="6.2" height="65.7" fill="#a6a6a6"/>
<polygon points="175.2,746.7 166.4,764.2 184,764.2" fill="#a6a6a6"/>
<polygon points="175.2,845.4 166.4,827.9 184,827.9" fill="#a6a6a6"/>
<rect x="310.8" y="761.5" width="6.2" height="312" fill="#a6a6a6"/>
<polygon points="313.9,745 304.9,762.5 322.9,762.5" fill="#a6a6a6"/>
<polygon points="313.9,1090 304.9,1072.5 322.9,1072.5" fill="#a6a6a6"/>
<rect x="835.6" y="864.2" width="6.2" height="226.2" fill="#a6a6a6"/>
<polygon points="838.7,847.7 829.8,865.2 847.6,865.2" fill="#a6a6a6"/>
<polygon points="838.7,1106.9 829.8,1089.4 847.6,1089.4" fill="#a6a6a6"/>
<rect x="176.9" y="1179.3" width="636.8" height="6.2" fill="#a6a6a6"/>
<polygon points="159.4,1182.4 177.9,1173.7 177.9,1191.2" fill="#a6a6a6"/>
<polygon points="831.2,1182.4 812.7,1173.7 812.7,1191.2" fill="#a6a6a6"/>
<text x="162.4" y="732.3" font-family='"Liberation Sans", sans-serif' font-size="36.5" font-weight="normal" fill="#000" text-anchor="start">INC</text>
<text x="109.9" y="886.6" font-family='"Liberation Sans", sans-serif' font-size="36.2" font-weight="normal" fill="#000" text-anchor="start">BL</text>
<text x="283.6" y="1134.1" font-family='"Liberation Sans", sans-serif' font-size="36.5" font-weight="normal" fill="#000" text-anchor="start">MIN</text>
<text x="794.7" y="1149.3" font-family='"Liberation Sans", sans-serif' font-size="36.2" font-weight="normal" fill="#000" text-anchor="start">EE</text>
<text x="392.6" y="1213.2" font-family='"Liberation Sans", sans-serif' font-size="23.2" font-weight="bold" fill="#7f7f7f" text-anchor="start" textLength="204" lengthAdjust="spacingAndGlyphs">Exercise duration</text>
<rect x="86" y="670.3" width="831.6" height="564.1" fill="none" stroke="#4a4a4a" stroke-width="1.2"/>
</g>
</svg>
</body></html>
